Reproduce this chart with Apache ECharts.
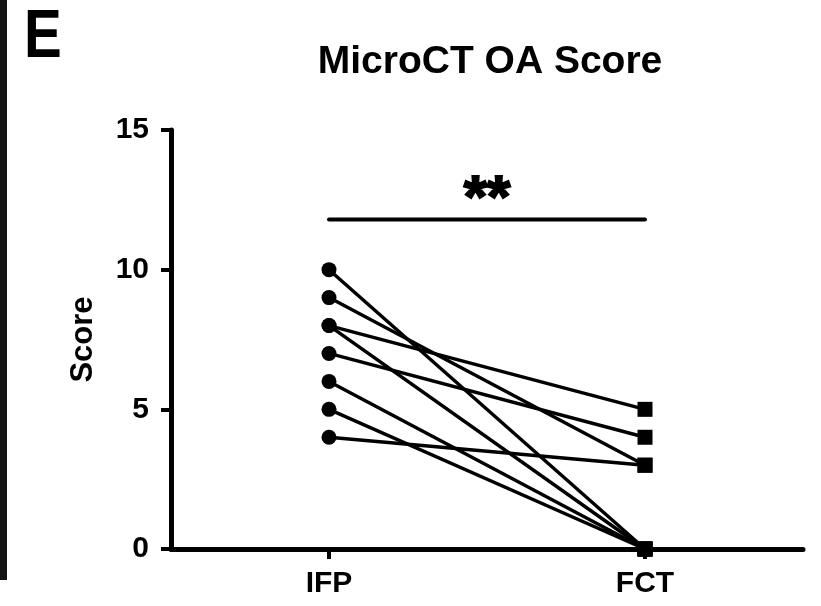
<!DOCTYPE html>
<html>
<head>
<meta charset="utf-8">
<script src="https://cdn.jsdelivr.net/npm/echarts@6/dist/echarts.min.js"></script>
<style>
  html, body { margin: 0; padding: 0; background: #fff; }
  #chart { width: 821px; height: 606px; }
</style>
</head>
<body>
<div id="chart"></div>
<script>
// Paired scores per animal: infrapatellar fat pad (IFP) vs femoral condyle (FCT)
const groups = ['IFP', 'FCT'];
const groupX = [1, 3];
const ifpScores = [10, 9, 8, 8, 7, 6, 5, 4];
const fctScores = [0, 3, 5, 0, 4, 0, 0, 3];
const yTicks = [0, 5, 10, 15];
const sigLevel = 11.8;       // height of the significance bracket
const sigText = '**';

const FONT = '"Liberation Sans", Arial, Helvetica, sans-serif';
const chart = echarts.init(document.getElementById('chart'));

const pairSeries = ifpScores.map((v, i) => ({
  type: 'line',
  data: [[groupX[0], v], [groupX[1], fctScores[i]]],
  symbol: 'none',
  lineStyle: { color: '#000', width: 3.4, opacity: 1 },
  silent: true,
  z: 2,
  animation: false
}));

chart.setOption({
  animation: false,
  backgroundColor: '#fff',
  title: {
    text: 'MicroCT OA Score',
    left: 485,
    textAlign: 'center',
    top: 38,
    textStyle: { fontFamily: FONT, fontWeight: 'bold', fontSize: 39, color: '#000' }
  },
  grid: { left: 171, right: 18, top: 130, bottom: 57 },
  xAxis: {
    type: 'value',
    min: 0,
    max: 4,
    splitLine: { show: false },
    axisLine: { lineStyle: { color: '#000', width: 5 } },
    axisTick: { customValues: groupX, length: 10, lineStyle: { color: '#000', width: 4 } },
    axisLabel: {
      customValues: groupX,
      formatter: v => groups[groupX.indexOf(v)] || '',
      margin: 20,
      fontFamily: FONT, fontWeight: 'bold', fontSize: 30, color: '#000'
    }
  },
  yAxis: {
    type: 'value',
    min: yTicks[0],
    max: yTicks[yTicks.length - 1],
    interval: 5,
    name: 'Score',
    nameLocation: 'middle',
    nameRotate: 90,
    nameGap: 72,
    nameTextStyle: { fontFamily: FONT, fontWeight: 'bold', fontSize: 31, color: '#000' },
    splitLine: { show: false },
    axisLine: { show: true, lineStyle: { color: '#000', width: 5 } },
    axisTick: { show: true, length: 10, lineStyle: { color: '#000', width: 4 } },
    axisLabel: { margin: 22, fontFamily: FONT, fontWeight: 'bold', fontSize: 30, color: '#000' }
  },
  graphic: [
    { type: 'rect', left: 0, top: 0, shape: { width: 7, height: 580 }, style: { fill: '#141414' } },
    {
      type: 'text', left: 24, top: 3, scaleX: 0.82,
      style: { text: 'E', fontFamily: FONT, fontWeight: 'bold', fontSize: 69, fill: '#000' }
    }
  ],
  series: [
    ...pairSeries,
    {
      type: 'scatter',
      data: ifpScores.map(v => [groupX[0], v]),
      symbol: 'circle',
      symbolSize: 15,
      itemStyle: { color: '#000', opacity: 1 },
      z: 3
    },
    {
      type: 'scatter',
      data: fctScores.map(v => [groupX[1], v]),
      symbol: 'rect',
      symbolSize: 15,
      itemStyle: { color: '#000', opacity: 1 },
      z: 3
    },
    {
      type: 'line',
      data: [[groupX[0], sigLevel], [groupX[1], sigLevel]],
      symbol: 'none',
      lineStyle: { color: '#000', width: 4, cap: 'round', opacity: 1 },
      z: 2
    },
    {
      type: 'scatter',
      data: [[(groupX[0] + groupX[1]) / 2, sigLevel]],
      symbolSize: 0,
      itemStyle: { opacity: 1 },
      label: {
        show: true,
        position: 'top',
        distance: -11,
        formatter: sigText,
        fontFamily: FONT, fontWeight: 'bold', fontSize: 60, color: '#000',
        textBorderColor: '#000', textBorderWidth: 2
      }
    }
  ]
});
</script>
</body>
</html>
